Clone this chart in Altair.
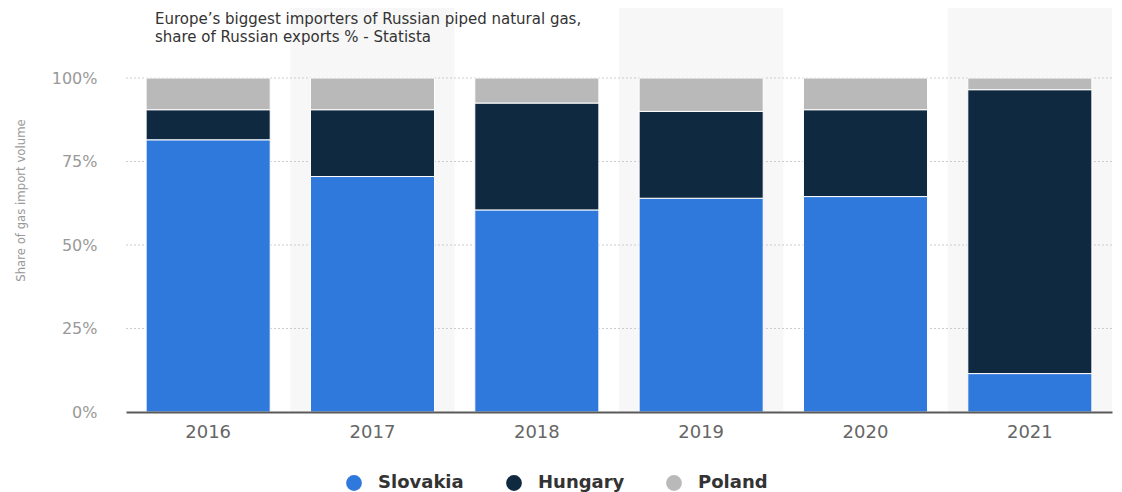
import altair as alt
import pandas as pd

years = ["2016", "2017", "2018", "2019", "2020", "2021"]
slovakia = [81.5, 70.5, 60.5, 64.0, 64.5, 11.5]
hungary = [9.0, 20.0, 32.0, 26.0, 26.0, 85.0]
poland = [9.5, 9.5, 7.5, 10.0, 9.5, 3.5]
countries = ["Slovakia", "Hungary", "Poland"]
colors = ["#2f78dc", "#0f2940", "#b9b9b9"]
band_years = ["2017", "2019", "2021"]
grid_values = [0.25, 0.5, 0.75, 1.0]

rows = []
for i, y in enumerate(years):
    for k, (c, vals) in enumerate(zip(countries, [slovakia, hungary, poland])):
        rows.append({"year": y, "country": c, "value": vals[i] / 100.0, "order": k})
df = pd.DataFrame(rows)
bands = pd.DataFrame({"year": band_years})
grid = pd.DataFrame({"v": grid_values})

W, H = 986, 334
pad_inner = 0.245

xscale = alt.Scale(domain=years, paddingInner=pad_inner, paddingOuter=pad_inner / 2)
yscale = alt.Scale(domain=[0, 1], nice=False)

bg = alt.Chart(bands).mark_bar(color="#f7f7f7", width=alt.RelativeBandSize(1 / (1 - pad_inner))).encode(
    x=alt.X("year:N", scale=xscale, sort=years),
    y=alt.value(-73),
    y2=alt.value(H),
)

gridlines = alt.Chart(grid).mark_rule(color="#cccccc", strokeDash=[2, 2], strokeWidth=1).encode(
    y=alt.Y("v:Q", scale=yscale),
    x=alt.value(0),
    x2=alt.value(W),
)

bars = alt.Chart(df).mark_bar(stroke="white", strokeWidth=1).encode(
    x=alt.X("year:N", scale=xscale, sort=years,
            axis=alt.Axis(title=None, labelAngle=0, labelAlign="center",
                          labelFont="DejaVu Sans", labelFontSize=18,
                          labelColor="#666666", labelPadding=20, ticks=False,
                          domain=True, domainColor="#5a5a5a", domainWidth=2, zindex=1)),
    y=alt.Y("value:Q", stack="zero", scale=yscale,
            axis=alt.Axis(format=".0%", values=[0, 0.25, 0.5, 0.75, 1.0],
                          title="Share of gas import volume",
                          titleFont="DejaVu Sans Condensed", titleFontSize=13,
                          titleFontWeight="normal", titleColor="#999999",
                          titleAngle=-90, titleX=-106, titleY=122,
                          titleAlign="center", titleBaseline="middle",
                          labelFont="DejaVu Sans", labelFontSize=16, labelColor="#999999",
                          labelPadding=29, ticks=False, domain=False, grid=False)),
    color=alt.Color("country:N", sort=countries,
                    scale=alt.Scale(domain=countries, range=colors),
                    legend=alt.Legend(title=None, orient="none", direction="horizontal",
                                      legendX=219, legendY=396, padding=0,
                                      gridAlign="all",
                                      symbolType="circle", symbolSize=250, symbolStrokeWidth=0,
                                      labelFont="DejaVu Sans", labelFontSize=18,
                                      labelFontWeight="bold", labelColor="#333333",
                                      labelOffset=15, columnPadding=40)),
    order=alt.Order("order:Q"),
)

chart = alt.layer(bg, gridlines, bars).properties(
    width=W, height=H,
    padding={"left": 118, "top": 70, "right": 2, "bottom": 80},
    autosize=alt.AutoSizeParams(type="none"),
    title=alt.TitleParams(
        text=["Europe’s biggest importers of Russian piped natural gas,",
              "share of Russian exports % - Statista"],
        anchor="start", frame="group", dx=29, offset=-40, font="DejaVu Sans", fontSize=15,
        fontWeight="normal", color="#333333", lineHeight=18),
).configure_view(stroke=None)

chart.save("out.html", embed_options={"renderer": "svg", "actions": False})
